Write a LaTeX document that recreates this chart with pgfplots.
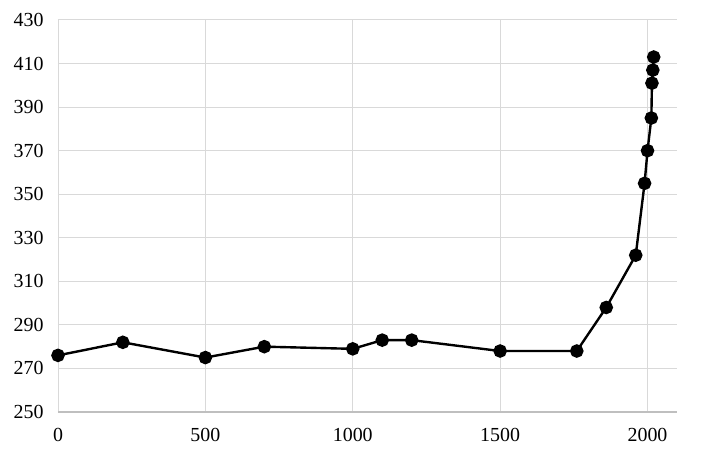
\documentclass[border=0pt]{standalone}
\usepackage{pgfplots}
\pgfplotsset{compat=1.18}
\usepackage{fontspec}
\setmainfont{Liberation Serif}
\definecolor{gridc}{HTML}{D9D9D9}
\definecolor{axc}{HTML}{BFBFBF}
\begin{document}
\begin{tikzpicture}
\begin{axis}[
  scale only axis,
  width=619bp, height=392bp,
  xmin=0, xmax=2100,
  ymin=250, ymax=430,
  xtick={0,500,1000,1500,2000},
  ytick={250,270,...,430},
  axis x line*=bottom,
  axis y line*=left,
  x axis line style={draw=axc, line width=1.2pt, -},
  y axis line style={draw=none, -},
  grid=major,
  major grid style={draw=gridc, line width=1pt},
  tick style={draw=none},
  /pgf/number format/assume math mode=true,
  /pgf/number format/1000 sep={},
  ticklabel style={font=\fontsize{20}{22}\selectfont},
  xticklabel style={yshift=-13bp},
  yticklabel style={xshift=-11bp},
  clip=false,
]
\addplot[black, line width=2.4pt, mark=*, mark size=5.6pt, mark options={fill=black}] coordinates {
(0,276) (220,282) (500,275) (700,280) (1000,279) (1100,283) (1200,283)
(1500,278) (1760,278) (1860,298) (1960,322) (1990,355) (2000,370)
(2013,385) (2015,401) (2018,407) (2021,413)
};
\end{axis}
\pgfresetboundingbox
\path ([xshift=-58bp,yshift=-38bp]current axis.south west) rectangle ([xshift=34bp,yshift=20bp]current axis.north east);
\end{tikzpicture}
\end{document}
